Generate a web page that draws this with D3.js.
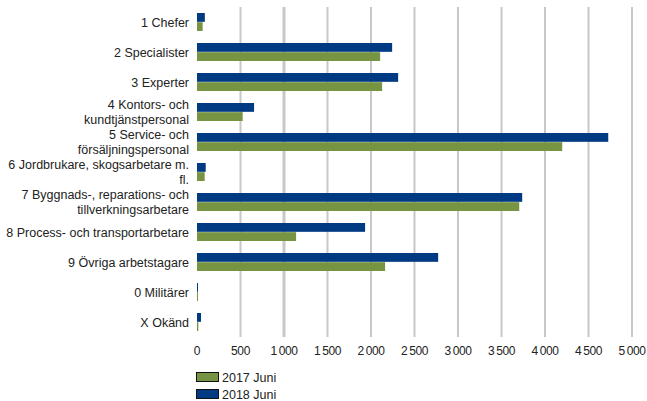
<!DOCTYPE html>
<html>
<head>
<meta charset="utf-8">
<script src="https://cdn.jsdelivr.net/npm/d3@7"></script>
<style>
	body { margin: 0; background: #fff; }
	text { font-family: "Liberation Sans", Arial, sans-serif; fill: #222; }
</style>
</head>
<body>
<script>
var categories = [
	["1 Chefer"],
	["2 Specialister"],
	["3 Experter"],
	["4 Kontors- och", "kundtjänstpersonal"],
	["5 Service- och", "försäljningspersonal"],
	["6 Jordbrukare, skogsarbetare m.", "fl."],
	["7 Byggnads-, reparations- och", "tillverkningsarbetare"],
	["8 Process- och transportarbetare"],
	["9 Övriga arbetstagare"],
	["0 Militärer"],
	["X Okänd"]
]
var values2017 = [65, 2105, 2128, 525, 4198, 88, 3704, 1139, 2162, 5, 15]
var values2018 = [90, 2243, 2312, 656, 4727, 100, 3738, 1932, 2772, 10, 46]
var seriesNames = ["2018 Juni", "2017 Juni"]
var seriesColors = { "2017 Juni": "#779443", "2018 Juni": "#003a82" }
var xTicks = d3.range(0, 5001, 500)

var width = 647, height = 401
var plotLeft = 197, plotRight = 632, plotTop = 7, plotBottom = 337

var svg = d3.select("body").append("svg")
	.attr("width", width)
	.attr("height", height)

var x = d3.scaleLinear().domain([0, 5000]).range([plotLeft, plotRight])
var y = d3.scaleBand()
	.domain(d3.range(categories.length))
	.range([plotTop, plotBottom])
	.paddingInner(0.4)
	.paddingOuter(0.2)
var ySub = d3.scaleBand().domain(seriesNames).range([0, y.bandwidth()]).paddingInner(0.04)

// vertical gridlines
svg.append("g").selectAll("line")
	.data(xTicks.slice(1))
	.join("line")
		.attr("x1", (d) => x(d)).attr("x2", (d) => x(d))
		.attr("y1", plotTop).attr("y2", plotBottom)
		.attr("stroke", "#c8c8c8")
		.attr("stroke-width", (d) => d == 1000 ? 3 : 2)

var locale = d3.formatLocale({ decimal: ",", thousands: "\u2009", grouping: [3], currency: ["", " kr"] })
var fmt = locale.format(",d")

svg.append("g").selectAll("text")
	.data(xTicks)
	.join("text")
		.attr("x", (d) => x(d))
		.attr("y", 355)
		.attr("text-anchor", "middle")
		.attr("font-size", 12)
		.attr("letter-spacing", -0.4)
		.text(fmt)

// bars
var rows = categories.map((c, i) => ({ i: i, "2017 Juni": values2017[i], "2018 Juni": values2018[i] }))
var group = svg.append("g").selectAll("g")
	.data(rows)
	.join("g")
		.attr("transform", (d) => "translate(0," + y(d.i) + ")")
group.selectAll("rect")
	.data((d) => seriesNames.map((s) => ({ s: s, v: d[s] })))
	.join("rect")
		.attr("x", x(0))
		.attr("y", (d) => ySub(d.s))
		.attr("height", ySub.bandwidth())
		.attr("width", (d) => Math.max(1, x(d.v) - x(0)))
		.attr("fill", (d) => seriesColors[d.s])

// category labels
var lineH = 15
var label = svg.append("g").selectAll("text")
	.data(categories)
	.join("text")
		.attr("text-anchor", "end")
		.attr("font-size", 12.5)
		.attr("transform", (d, i) => "translate(189," + (y(i) + y.bandwidth() / 2 + 4.5 - (d.length - 1) * lineH / 2) + ")")
label.selectAll("tspan")
	.data((d) => d)
	.join("tspan")
		.attr("x", 0)
		.attr("dy", (d, i) => i == 0 ? 0 : lineH)
		.text((d) => d)

// legend
var legend = svg.append("g").selectAll("g")
	.data(["2017 Juni", "2018 Juni"])
	.join("g")
		.attr("transform", (d, i) => "translate(196," + (372 + i * 17) + ")")
legend.append("rect")
	.attr("x", 0.5).attr("y", 0.5)
	.attr("width", 22).attr("height", 9)
	.attr("fill", (d) => seriesColors[d])
	.attr("stroke", "#111")
	.attr("stroke-width", 1)
legend.append("text")
	.attr("x", 26)
	.attr("y", 9.5)
	.attr("font-size", 12.5)
	.text((d) => d)
</script>
</body>
</html>
